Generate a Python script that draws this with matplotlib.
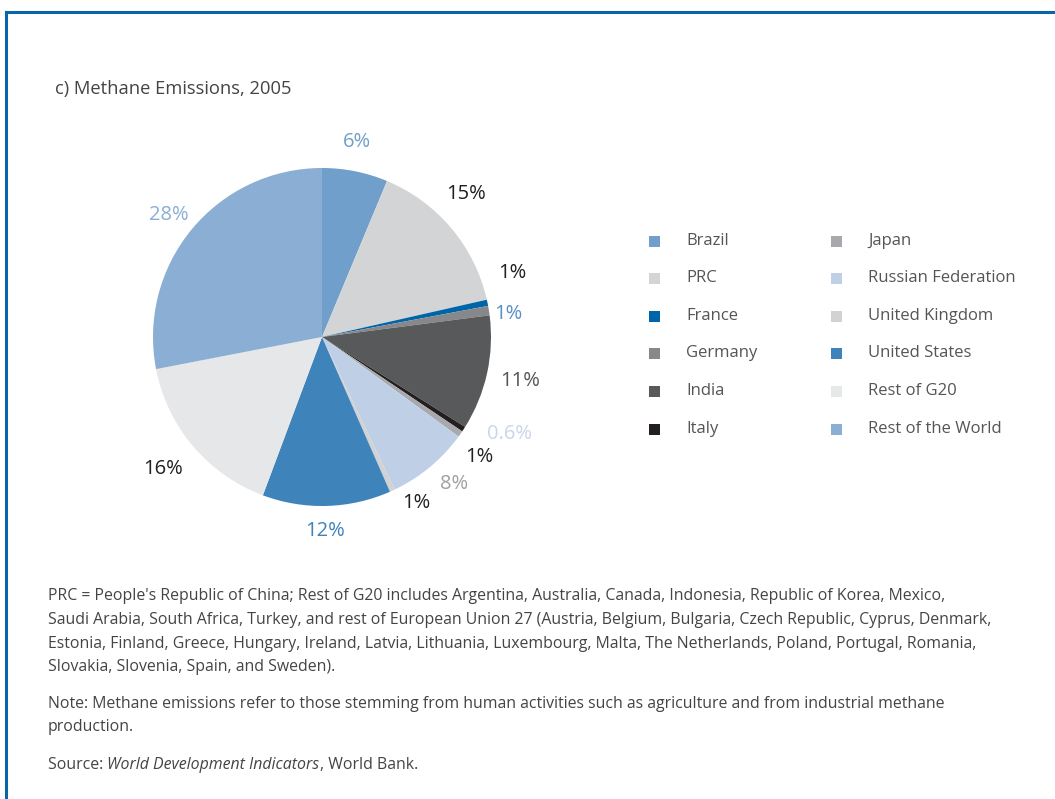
import matplotlib
matplotlib.use("Agg")
import matplotlib.pyplot as plt
from matplotlib.patches import Rectangle
import numpy as np

# ---- data ----
categories = ["Brazil", "PRC", "France", "Germany", "India", "Italy",
              "Japan", "Russian Federation", "United Kingdom", "United States",
              "Rest of G20", "Rest of the World"]
shares = [6.3, 15.2, 0.6, 0.9, 11.0, 0.5, 0.6, 7.9, 0.5, 12.3, 16.3, 28.1]
value_labels = ["6%", "15%", "1%", "1%", "11%", "0.6%", "1%", "8%", "1%",
                "12%", "16%", "28%"]
colors = ["#6f9fca", "#d3d4d6", "#0064a8", "#87888b", "#58595b", "#231f20",
          "#a7a9ac", "#bfd0e6", "#d1d2d4", "#3f83bb", "#e6e7e8", "#8aaed4"]
label_colors = ["#6f9fca", "#231f20", "#231f20", "#5b8fc6", "#555555", "#c8d6ea",
                "#231f20", "#a0a0a0", "#231f20", "#3f83bb", "#231f20", "#8aaed4"]
# layout tweaks for label placement (angle shift in degrees, radial distance)
label_shift = [1, 4.6, 7, -1.8, 0, 5.8, -2.5, 2.3, 5, -0.7, -0.5, 1]
label_dist = [1.17, 1.20, 1.19, 1.11, 1.20, 1.25, 1.17, 1.17, 1.13, 1.15, 1.22, 1.16]

title = "c) Methane Emissions, 2005"
foot1 = ["PRC = People's Republic of China; Rest of G20 includes Argentina, Australia, Canada, Indonesia, Republic of Korea, Mexico,",
         "Saudi Arabia, South Africa, Turkey, and rest of European Union 27 (Austria, Belgium, Bulgaria, Czech Republic, Cyprus, Denmark,",
         "Estonia, Finland, Greece, Hungary, Ireland, Latvia, Lithuania, Luxembourg, Malta, The Netherlands, Poland, Portugal, Romania,",
         "Slovakia, Slovenia, Spain, and Sweden)."]
foot2 = ["Note: Methane emissions refer to those stemming from human activities such as agriculture and from industrial methane",
         "production."]

FONT = "Open Sans"
FS_FOOT = 11.4
W, H = 1055, 799
fig = plt.figure(figsize=(W / 100, H / 100), dpi=100)
fig.patch.set_facecolor("white")

def px(x, y):
    return x / W, 1 - y / H

# border frame (open to right and bottom)
fig.add_artist(plt.Line2D([6 / W, 6 / W], [1 - 12 / H, 0], color="#0a64a8", lw=2.2))
fig.add_artist(plt.Line2D([6 / W, 1], [1 - 12 / H, 1 - 12 / H], color="#0a64a8", lw=2.2))

fig.text(*px(55, 89), title, fontsize=13.2, color="#444444", family=FONT, va="center", ha="left")

# pie axes
cx, cy, r = 322, 337, 169
span = 1.5
ax = fig.add_axes([(cx - span * r) / W, (H - cy - span * r) / H, 2 * span * r / W, 2 * span * r / H])
wedges, _ = ax.pie(shares, colors=colors, startangle=90, counterclock=False,
                   radius=1.0, wedgeprops=dict(linewidth=0))
ax.set_xlim(-span, span)
ax.set_ylim(-span, span)
ax.axis("off")
for w, lab, c, sh, d in zip(wedges, value_labels, label_colors, label_shift, label_dist):
    mid = np.deg2rad((w.theta1 + w.theta2) / 2 + sh)
    ax.text(d * np.cos(mid), d * np.sin(mid), lab, ha="center", va="center",
            fontsize=14.5, color=c, family=FONT)

# legend
col_x = [654, 836]
row_y = [241, 278, 316, 353, 391, 429]
sq = 11
for i, (name, c) in enumerate(zip(categories, colors)):
    col, row = divmod(i, 6)
    x0, y0 = col_x[col], row_y[row]
    fig.add_artist(Rectangle(((x0 - sq / 2) / W, 1 - (y0 + sq / 2) / H), sq / W, sq / H,
                             transform=fig.transFigure, color=c, lw=0))
    fig.text(*px(x0 + 32, y0), name, fontsize=12, color="#555555", family=FONT,
             va="center", ha="left")

# footnotes
fy = [596, 620, 644, 667]
for y, t in zip(fy, foot1):
    fig.text(*px(48, y), t, fontsize=FS_FOOT, color="#444444", family=FONT, va="center", ha="left")
for y, t in zip([704, 727], foot2):
    fig.text(*px(48, y), t, fontsize=FS_FOOT, color="#444444", family=FONT, va="center", ha="left")
src = fig.text(*px(48, 765), "Source: ", fontsize=FS_FOOT, color="#444444", family=FONT, va="center", ha="left")
fig.canvas.draw()
bb = src.get_window_extent()
t2 = fig.text(bb.x1 / W, 1 - 765 / H, "World Development Indicators", fontsize=FS_FOOT, color="#444444",
              family=FONT, style="italic", va="center", ha="left")
bb2 = t2.get_window_extent(renderer=fig.canvas.get_renderer())
fig.text(bb2.x1 / W, 1 - 765 / H, ", World Bank.", fontsize=FS_FOOT, color="#444444",
         family=FONT, va="center", ha="left")

fig.savefig("out.png", dpi=100)
